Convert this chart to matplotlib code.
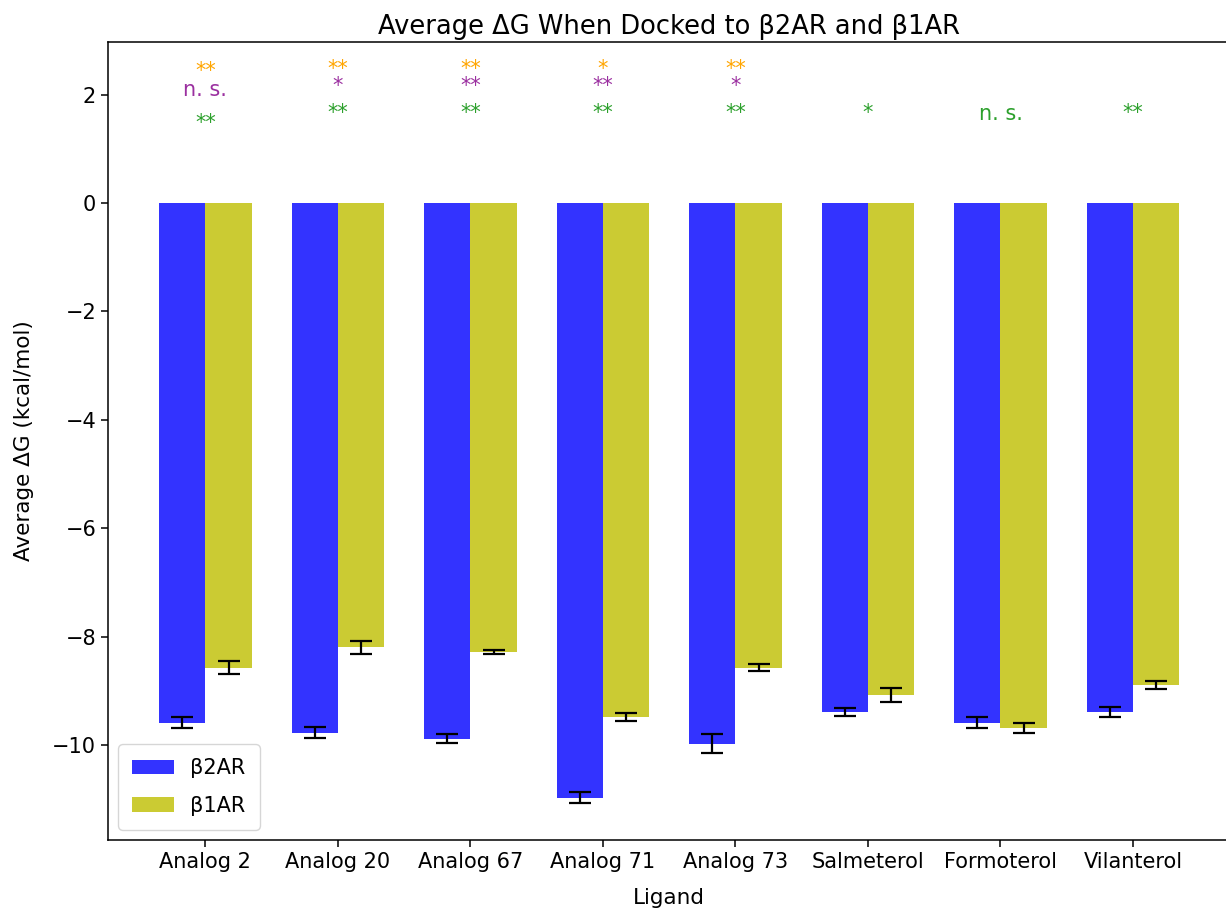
import matplotlib
matplotlib.use("Agg")
import matplotlib.pyplot as plt
import numpy as np

ligands = ["Analog 2", "Analog 20", "Analog 67", "Analog 71", "Analog 73",
           "Salmeterol", "Formoterol", "Vilanterol"]
b2_mean = [-9.59, -9.77, -9.88, -10.97, -9.97, -9.39, -9.59, -9.39]
b2_err = [0.10, 0.10, 0.08, 0.10, 0.18, 0.08, 0.10, 0.09]
b1_mean = [-8.57, -8.19, -8.28, -9.48, -8.57, -9.07, -9.68, -8.89]
b1_err = [0.12, 0.12, 0.03, 0.07, 0.07, 0.13, 0.09, 0.08]

# significance annotations
sig_orange = ["**", "**", "**", "*", "**", "", "", ""]
sig_purple = ["n. s.", "*", "**", "**", "*", "", "", ""]
sig_green = ["**", "**", "**", "**", "**", "*", "n. s.", "**"]
y_orange = [2.43, 2.47, 2.47, 2.47, 2.47, 2.47, 2.47, 2.47]
y_purple = [2.09, 2.16, 2.16, 2.16, 2.16, 2.16, 2.16, 2.16]
y_green = [1.48, 1.66, 1.66, 1.66, 1.66, 1.66, 1.65, 1.66]

plt.rcParams['font.size'] = 15
plt.rcParams['axes.linewidth'] = 1.1
plt.rcParams['xtick.major.width'] = 1.1
plt.rcParams['ytick.major.width'] = 1.1
plt.rcParams['xtick.major.size'] = 5
plt.rcParams['ytick.major.size'] = 5

fig = plt.figure(figsize=(12.26, 9.09), dpi=100)
ax = fig.add_axes([108/1226, 1 - 840/909, (1230.4 - 108)/1226, (840 - 42)/909])

x = np.arange(len(ligands))
w = 0.35
ek = dict(ecolor='black', elinewidth=1.6, capthick=1.6)
ax.bar(x - w/2, b2_mean, w, yerr=b2_err, color='b', alpha=0.8, capsize=8,
       error_kw=ek, label='β2AR')
ax.bar(x + w/2, b1_mean, w, yerr=b1_err, color='y', alpha=0.8, capsize=8,
       error_kw=ek, label='β1AR')

for xi, s, yy in zip(x, sig_orange, y_orange):
    if s:
        ax.text(xi, yy, s, color='orange', ha='center', va='center', fontsize=15)
for xi, s, yy in zip(x, sig_purple, y_purple):
    if s:
        ax.text(xi, yy, s, color='#9b30a0', ha='center', va='center', fontsize=15)
for xi, s, yy in zip(x, sig_green, y_green):
    if s:
        ax.text(xi, yy, s, color='#2ca02c', ha='center', va='center', fontsize=15)

ax.set_xticks(x)
ax.set_xticklabels(ligands)
ax.set_xlim(-0.735, 7.735)
ax.set_ylim(-11.75, 2.97)
ax.set_xlabel('Ligand', fontsize=15.5, labelpad=12)
ax.set_ylabel('Average ΔG (kcal/mol)', fontsize=15.5, labelpad=13)
ax.set_title('Average ΔG When Docked to β2AR and β1AR', fontsize=18.5)
ax.legend(loc='lower left', labelspacing=0.85, borderpad=0.66)

fig.savefig('out.png', dpi=100)
